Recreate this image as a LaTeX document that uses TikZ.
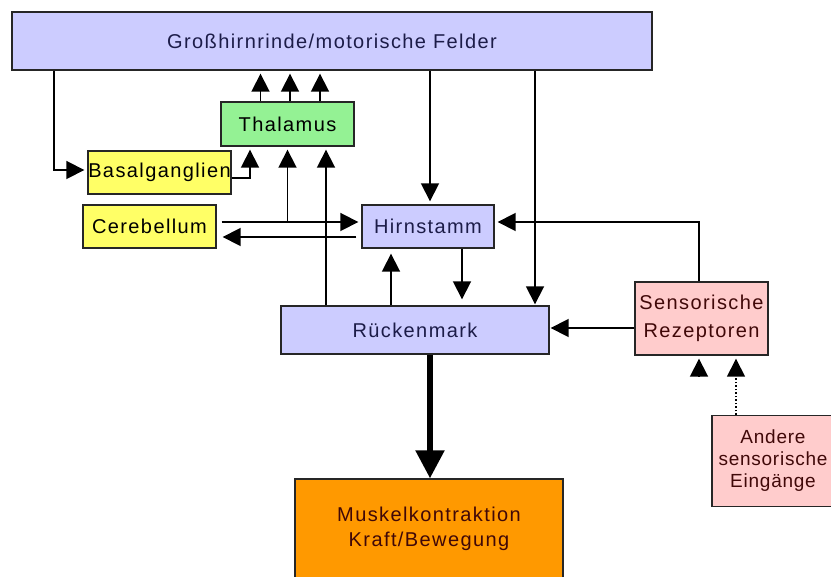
\documentclass[tikz,border=0pt]{standalone}
\usepackage{fontspec}
\setmainfont{Liberation Sans}[LetterSpace=7]
\usetikzlibrary{arrows.meta}

\definecolor{lavendel}{HTML}{CCCCFF}
\definecolor{hellgruen}{HTML}{94F294}
\definecolor{gelb}{HTML}{FFFF66}
\definecolor{rosa}{HTML}{FFCCCC}
\definecolor{orange}{HTML}{FF9900}
\definecolor{tinteblau}{HTML}{1C1C48}
\definecolor{tinterot}{HTML}{400808}

\tikzset{
	box/.style={draw=black!85, line width=1.4pt, inner sep=0pt, align=center,
		font=\fontsize{20}{24}\selectfont},
	arr/.style={-{Triangle[length=18pt,width=18pt]}, line width=1.8pt, shorten >=3pt},
	dickarr/.style={-{Triangle[length=28pt,width=28pt]}, line width=5.5pt},
	punktarr/.style={-{Triangle[length=18pt,width=18pt]}, line width=1.5pt, dotted, shorten >=3pt}
}

\begin{document}
\begin{tikzpicture}[x=1pt, y=-1pt]
			\path[use as bounding box, clip]	(0, 0) rectangle (831, 577);

			\node[box, fill=lavendel, text=tinteblau, minimum width=640pt, minimum height=58pt]	(gross)	at (332, 41)	{Großhirnrinde/motorische Felder};
			\node[box, fill=hellgruen, minimum width=133pt, minimum height=44pt]	(thal)	at (287.5, 124)	{Thalamus};
			\node[box, fill=gelb, minimum width=143pt, minimum height=43pt]	(basal)	at (159.5, 172.5)	{Basalganglien};
			\node[box, fill=gelb, minimum width=133pt, minimum height=43pt]	(cereb)	at (149.5, 226.5)	{Cerebellum};
			\node[box, fill=lavendel, text=tinteblau, minimum width=132pt, minimum height=43pt]	(hirn)	at (428, 226.5)	{Hirnstamm};
			\node[box, fill=lavendel, text=tinteblau, minimum width=268pt, minimum height=48pt]	(rueck)	at (415, 330)	{Rückenmark};
			\node[box, fill=rosa, text=tinterot, minimum width=133pt, minimum height=73pt,
				font=\fontsize{20}{28}\selectfont]	(sens)	at (701.5, 318.5)	{Sensorische\\Rezeptoren};
			\node[box, fill=rosa, text=tinterot, minimum width=122pt, minimum height=91pt,
				font=\fontsize{19}{22}\selectfont\addfontfeature{LetterSpace=4}]	(andere)	at (773, 461)	{Andere\\sensorische\\Eingänge};
			\node[box, fill=orange, text=tinterot, minimum width=268pt, minimum height=100pt,
				font=\fontsize{20}{25}\selectfont]	(muskel)	at (429, 529)	{Muskelkontraktion\\Kraft/Bewegung};

			\draw[arr]	([xshift=43pt]gross.south west) |- ([yshift=2.5pt]basal.west);
			\draw[arr]	([yshift=-5.5pt]basal.east) -| ([xshift=-37.5pt]thal.south);

			\foreach \dx in {-27, 2.5, 32.5}
				\draw[arr]	([xshift=\dx pt]thal.north) to ([xshift=\dx pt]thal.north |- gross.south);

			\draw[arr, shorten <=5pt]	([yshift=4.5pt]cereb.east) to ([yshift=4.5pt]cereb.east -| hirn.west);
			\draw[arr]	([yshift=4.5pt]cereb.east -| thal.south) to (thal.south);
			\draw[arr, shorten <=5pt, shorten >=6pt]	([yshift=-10.5pt]hirn.west) to ([yshift=-10.5pt]hirn.west -| cereb.east);

			\draw[arr]	([xshift=-89pt]rueck.north) to ([xshift=-89pt]rueck.north |- thal.south);
			\draw[arr, shorten >=5pt]	([xshift=-24pt]rueck.north) to ([xshift=-24pt]rueck.north |- hirn.south);
			\draw[arr, shorten >=6pt]	([xshift=34pt]hirn.south) to ([xshift=34pt]hirn.south |- rueck.north);

			\draw[arr]	([xshift=2pt]hirn.north |- gross.south) to ([xshift=2pt]hirn.north);
			\draw[arr, shorten >=1pt]	([xshift=120pt]rueck.north |- gross.south) to ([xshift=120pt]rueck.north);

			\draw[arr]	([xshift=-2.5pt]sens.north) |- ([yshift=4.5pt]hirn.east);
			\draw[arr, shorten >=1pt]	([yshift=-9.5pt]sens.west) to ([yshift=-9.5pt]sens.west -| rueck.east);

			\draw[dickarr]	([xshift=15pt]rueck.south) to ([xshift=15pt]rueck.south |- muskel.north);

			\coordinate (sensein) at (699, 376);
			\draw[arr]	(sensein) to (sensein |- sens.south);
			\draw[punktarr]	([xshift=-37pt]andere.north) to ([xshift=-37pt]andere.north |- sens.south);
		\end{tikzpicture}
\end{document}
